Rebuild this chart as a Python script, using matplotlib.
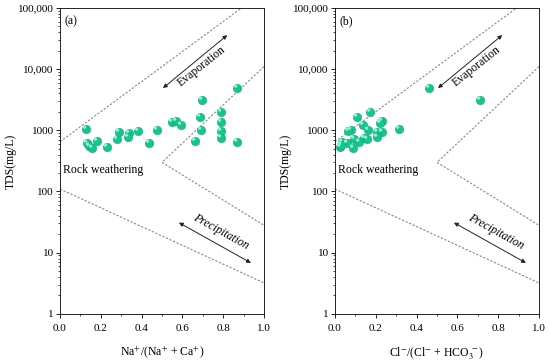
import numpy as np
import matplotlib
matplotlib.use("Agg")
import matplotlib.pyplot as plt
from matplotlib.ticker import FixedLocator, LogLocator, NullFormatter, MultipleLocator

plt.rcParams['font.family'] = ['Liberation Serif', 'DejaVu Serif']
plt.rcParams['mathtext.fontset'] = 'stix'

# (a) Na+/(Na+ + Ca+) vs TDS
na_ratio = [0.127, 0.132, 0.142, 0.157, 0.181, 0.230, 0.279, 0.289, 0.338, 0.333,
            0.382, 0.436, 0.475, 0.549, 0.569, 0.593, 0.662, 0.686, 0.691, 0.696,
            0.789, 0.789, 0.789, 0.789, 0.868, 0.868]
tds_a = [1055, 622, 556, 516, 671, 535, 723, 942, 907, 780,
         977, 622, 1015, 1371, 1425, 1225, 671, 1656, 1015, 3140,
         2000, 1371, 977, 760, 4930, 646]

# (b) Cl-/(Cl- + HCO3-) vs TDS
cl_ratio = [0.461, 0.711, 0.172, 0.108, 0.230, 0.221, 0.137, 0.314, 0.078, 0.064,
            0.162, 0.230, 0.206, 0.206, 0.142, 0.093, 0.118, 0.157, 0.034, 0.059,
            0.025, 0.088, 0.030]
tds_b = [4930, 3140, 2000, 1656, 1425, 1320, 1225, 1055, 1015, 977,
         1015, 942, 942, 780, 751, 723, 646, 723, 646, 622,
         535, 516, 580]

# Gibbs boundary lines
upper_x, upper_y = [0.0, 0.89], [650, 100000]
inner_x, inner_y = [1.0, 0.5, 1.0], [11000, 300, 28]
lower_x, lower_y = [0.0, 1.0], [110, 3.2]

yticks = [1, 10, 100, 1000, 10000, 100000]
ytick_labels = ['1', '10', '100', '1000', '10,000', '100,000']

fig = plt.figure(figsize=(5.5, 3.62), dpi=100)
ax_a = fig.add_axes([0.109, 0.133, 0.371, 0.845])
ax_b = fig.add_axes([0.609, 0.133, 0.371, 0.845])

panels = [
    (ax_a, na_ratio, tds_a, '(a)', r'Na$^{+}$/(Na$^{+}$ + Ca$^{+}$)'),
    (ax_b, cl_ratio, tds_b, '(b)', r'Cl$^{-}$/(Cl$^{-}$ + HCO$_{3}^{\ -}$)'),
]

for ax, x, y, tag, xlab in panels:
    ax.set_yscale('log')
    ax.set_xlim(0, 1)
    ax.set_ylim(1, 100000)

    dash = dict(color='#888888', lw=0.8, linestyle=(0, (2, 1.5)))
    ax.plot(upper_x, upper_y, **dash)
    ax.plot(inner_x, inner_y, **dash)
    ax.plot(lower_x, lower_y, **dash)

    # shaded-ball look: base marker plus small highlight
    ax.scatter(x, y, s=36, color='#14c68e', edgecolors='#0ea676', linewidths=0.4, zorder=3)
    ax.scatter(np.array(x) - 0.007, np.array(y) * 1.07, s=6, color='#8ff0cf',
               edgecolors='none', zorder=4)

    # evaporation arrow
    ax.annotate('', xy=(0.82, 36000), xytext=(0.505, 4900),
                arrowprops=dict(arrowstyle='<|-|>', color='#222222', lw=0.7,
                                mutation_scale=6, shrinkA=0, shrinkB=0))
    ax.text(0.695, 11000, 'Evaporation', rotation=38.5, rotation_mode='anchor',
            ha='center', va='center', fontsize=8.5)

    # precipitation arrow
    ax.annotate('', xy=(0.936, 6.8), xytext=(0.583, 31),
                arrowprops=dict(arrowstyle='<|-|>', color='#222222', lw=0.7,
                                mutation_scale=6, shrinkA=0, shrinkB=0))
    ax.text(0.79, 22, 'Precipitation', rotation=-29, rotation_mode='anchor',
            ha='center', va='center', fontsize=8.5, style='italic')

    ax.text(0.015, 225, 'Rock weathering', ha='left', va='center', fontsize=8.5)
    ax.text(0.02, 0.955, tag, transform=ax.transAxes, ha='left', va='center', fontsize=8.5)

    ax.yaxis.set_major_locator(FixedLocator(yticks))
    ax.set_yticklabels(ytick_labels)
    ax.yaxis.set_minor_locator(LogLocator(base=10, subs=np.arange(2, 10)))
    ax.yaxis.set_minor_formatter(NullFormatter())
    ax.xaxis.set_major_locator(MultipleLocator(0.2))
    ax.xaxis.set_minor_locator(MultipleLocator(0.1))
    ax.xaxis.set_major_formatter(plt.FuncFormatter(lambda v, p: f'{v:.1f}'))

    ax.tick_params(which='major', direction='out', length=3, width=0.6, labelsize=8)
    ax.tick_params(axis='x', which='major', pad=4)
    ax.tick_params(axis='y', which='major', pad=1.5)
    ax.tick_params(which='minor', direction='out', length=1.5, width=0.5)
    for sp in ax.spines.values():
        sp.set_linewidth(0.6)

    ax.set_ylabel('TDS(mg/L)', fontsize=8.5, labelpad=1)
    ax.set_xlabel(xlab, fontsize=8.5, labelpad=9)

fig.savefig('out.png', dpi=100)
